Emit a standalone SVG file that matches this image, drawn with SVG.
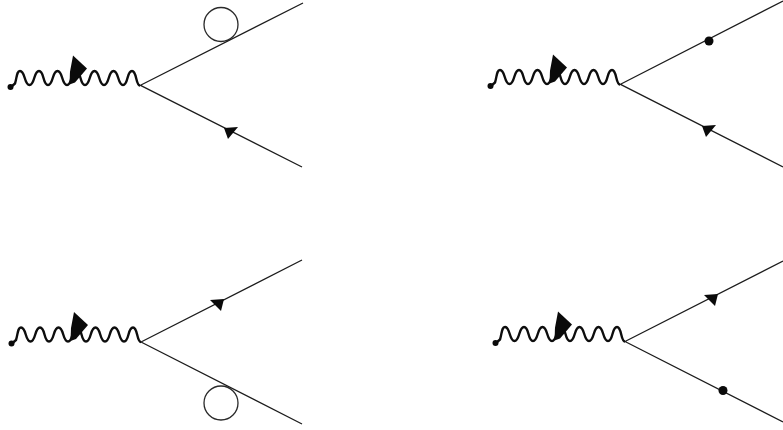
<svg xmlns="http://www.w3.org/2000/svg" xmlns:xlink="http://www.w3.org/1999/xlink" width="783" height="430" viewBox="0 0 783 430">
<style>
.l{fill:none;stroke:#1c1c1c;stroke-width:1.3}
.w{fill:none;stroke:#0d0d0d;stroke-width:2.4}
.f{fill:#0a0a0a;stroke:none}
.c{fill:none;stroke:#2a2a2a;stroke-width:1.3}
</style>
<defs>
<g id="boson">
<path class="w" d="M-129,1.500 L-125,-2 C-123,-8 -123.500,-14.500 -120,-14.500 C-114.500,-14.500 -116,-0.500 -110.500,-0.500 C-105,-0.500 -106.500,-14.500 -101,-14.500 C-95.500,-14.500 -97.500,-0.500 -92,-0.500 C-86.500,-0.500 -88,-14.500 -82.500,-14.500 C-77,-14.500 -78.500,-0.500 -73,-0.500 C-67.500,-0.500 -69.500,-14.500 -64,-14.500 C-58.500,-14.500 -60.500,-0.500 -55,-0.500 C-49.500,-0.500 -51,-14.500 -45.500,-14.500 C-40,-14.500 -41.500,-0.500 -36,-0.500 C-30.500,-0.500 -32,-14.500 -26.500,-14.500 C-21,-14.500 -22.500,-0.500 -17,-0.500 C-11.500,-0.500 -13.500,-14.500 -8,-14.500 C-3,-14.500 -4.500,0 0,0"/>
<circle class="f" cx="-129.500" cy="1.500" r="3"/>
<path class="f" d="M-67,-30 L-53,-17 L-65,-3 L-70.500,-1 L-70,-14 Z"/>
</g>
<path id="fd" class="f" d="M0,0 L14,-1 L4,11 Z"/>
<path id="fu" class="f" d="M0,0 L14,-1 L11,11 Z"/>
</defs>
<g id="connectors">
<path class="l" d="M140,85.500 L303,3 M140,85.200 L302,167"/>
<path class="l" d="M620,84.500 L783,1 M620,84.200 L783,167"/>
<path class="l" d="M141,342 L302,260 M141,342 L302,424"/>
<path class="l" d="M625,341.500 L783,261 M625,341.500 L783,422"/>
</g>
<g id="diagram-top-left">
<use xlink:href="#boson" href="#boson" x="140" y="85.500"/>
<circle class="c" cx="221" cy="24.500" r="17"/>
<use xlink:href="#fd" href="#fd" x="224" y="128"/>
</g>
<g id="diagram-top-right">
<use xlink:href="#boson" href="#boson" x="620" y="84.500"/>
<circle class="f" cx="709" cy="41" r="4.500"/>
<use xlink:href="#fd" href="#fd" x="702" y="126"/>
</g>
<g id="diagram-bottom-left">
<use xlink:href="#boson" href="#boson" x="141" y="342"/>
<use xlink:href="#fu" href="#fu" x="210" y="300"/>
<circle class="c" cx="221" cy="403" r="17"/>
</g>
<g id="diagram-bottom-right">
<use xlink:href="#boson" href="#boson" x="625" y="341.500"/>
<use xlink:href="#fu" href="#fu" x="704" y="295"/>
<circle class="f" cx="723" cy="390.500" r="4.500"/>
</g>
</svg>
